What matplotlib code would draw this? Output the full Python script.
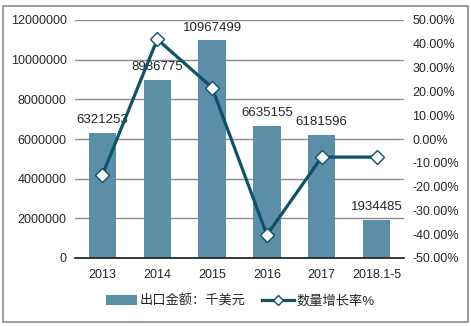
import numpy as np
import matplotlib.pyplot as plt
from matplotlib.patches import Rectangle
from matplotlib.ticker import FuncFormatter

plt.rcParams['font.family'] = ['Liberation Sans', 'Noto Sans CJK SC', 'DejaVu Sans']

# data
years = ['2013', '2014', '2015', '2016', '2017', '2018.1-5']
export_value = [6321253, 8986775, 10967499, 6635155, 6181596, 1934485]
growth_rate = [-15.1, 41.9, 21.6, -40.3, -7.6, -7.6]

bar_color = '#5b8fa8'
line_color = '#0c5269'
text_color = '#262626'

fig = plt.figure(figsize=(4.71, 3.26), dpi=100)
fig.patches.append(Rectangle((3 / 471, 4 / 326), 465 / 471, 316 / 326, transform=fig.transFigure,
                             fill=False, edgecolor='#8c8c8c', linewidth=1.2))

ax = fig.add_axes([75 / 471, 68 / 326, 329 / 471, 238 / 326])
x = np.arange(len(years))
bars = ax.bar(x, export_value, width=0.5, color=bar_color, zorder=2)
ax.set_xlim(-0.5, len(years) - 0.5)
ax.set_ylim(0, 12000000)
ax.set_yticks(np.arange(0, 12000001, 2000000))
ax.yaxis.set_major_formatter(FuncFormatter(lambda v, p: f'{int(v)}'))
ax.yaxis.grid(True, color='#8c8c8c', linewidth=1, zorder=0)
ax.set_axisbelow(True)
ax.set_xticks(x)
ax.set_xticklabels(years)
for s in ['left', 'right', 'top']:
    ax.spines[s].set_visible(False)
ax.spines['bottom'].set_color('#1a1a1a')
ax.spines['bottom'].set_linewidth(1.2)
ax.tick_params(axis='both', length=0, labelsize=9, colors=text_color)
ax.tick_params(axis='x', pad=8)
ax.tick_params(axis='y', pad=6)

for xi, v in zip(x, export_value):
    ax.text(xi, v + 350000, str(v), ha='center', va='bottom', fontsize=9.5, color=text_color, zorder=3)

ax2 = ax.twinx()
ax2.plot(x, growth_rate, color=line_color, linewidth=2.3, marker='D', markersize=7,
         markerfacecolor='white', markeredgecolor=line_color, markeredgewidth=1.0, zorder=4)
ax2.set_ylim(-50, 50)
ax2.set_yticks(np.arange(-50, 51, 10))
ax2.yaxis.set_major_formatter(FuncFormatter(lambda v, p: f'{v:.2f}%'))
for s in ['left', 'right', 'top', 'bottom']:
    ax2.spines[s].set_visible(False)
ax2.tick_params(axis='y', length=0, labelsize=9, colors=text_color, pad=6)

fig.legend([bars, ax2.lines[0]], ['出口金额：千美元', '数量增长率%'], loc='center',
           bbox_to_anchor=(240 / 471, 1 - 301 / 326), ncol=2, frameon=False,
           fontsize=9.5, handlelength=2.4, columnspacing=1.2, handletextpad=0.2,
           markerscale=0.75, labelcolor=text_color)

fig.savefig('out.png', dpi=100)
